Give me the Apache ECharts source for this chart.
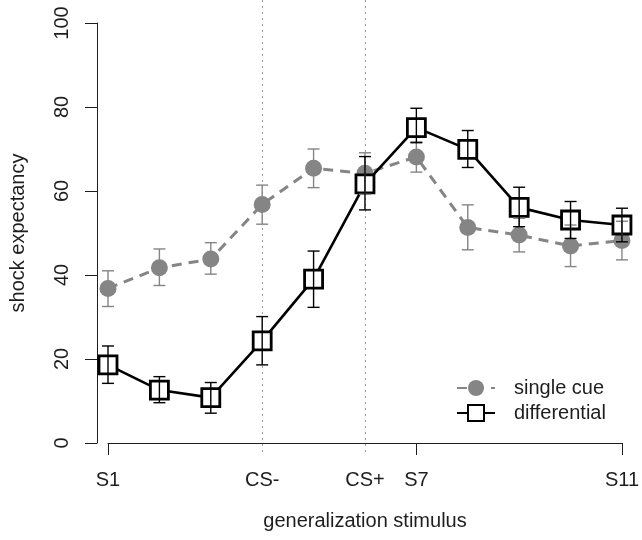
<!DOCTYPE html>
<html>
<head>
<meta charset="utf-8">
<script src="https://cdn.jsdelivr.net/npm/echarts@6/dist/echarts.min.js"></script>
<style>
  html, body { margin: 0; padding: 0; background: #fff; }
  #chart { width: 642px; height: 540px; }
</style>
</head>
<body>
<div id="chart"></div>
<script>
// generalization stimuli (S4 = CS-, S6 = CS+)
const stimuli = ['S1', 'S2', 'S3', 'CS-', 'S5', 'CS+', 'S7', 'S8', 'S9', 'S10', 'S11']
const labelledStimuli = ['S1', 'CS-', 'CS+', 'S7', 'S11']
const tickedStimuli = ['S1', 'S7', 'S11']
const conditionedStimuli = ['CS-', 'CS+']
const yTicks = [0, 20, 40, 60, 80, 100]

// single cue group
const singleMean = [36.8, 41.7, 43.8, 56.8, 65.4, 64.2, 68.1, 51.3, 49.5, 46.9, 48.2]
const singleLow = [32.5, 37.5, 40.2, 52.1, 60.8, 59.2, 64.5, 46.0, 45.5, 42.0, 43.6]
const singleHigh = [41.0, 46.2, 47.7, 61.4, 70.0, 69.1, 71.7, 56.7, 53.5, 51.9, 52.8]

// differential group
const diffMean = [18.6, 12.6, 10.8, 24.3, 39.0, 61.7, 75.1, 69.9, 56.1, 53.1, 51.9]
const diffLow = [14.2, 9.6, 7.1, 18.6, 32.3, 55.5, 71.5, 65.6, 51.5, 48.7, 47.9]
const diffHigh = [23.1, 15.8, 14.4, 30.1, 45.7, 68.2, 79.7, 74.4, 60.9, 57.5, 55.9]

const FONT = "'Liberation Sans', Arial, sans-serif"
const INK = '#1e1e1e'
const GREY = '#858585'

const chart = echarts.init(document.getElementById('chart'), null, { renderer: 'canvas' })

// vertical error bar with caps
function errorBar(color) {
  return function (params, api) {
    const x = api.value(0)
    const lo = api.coord([x, api.value(1)])
    const hi = api.coord([x, api.value(2)])
    const w = 6
    const style = { stroke: color, lineWidth: 1.4 }
    return {
      type: 'group',
      children: [
        { type: 'line', shape: { x1: lo[0], y1: lo[1], x2: hi[0], y2: hi[1] }, style },
        { type: 'line', shape: { x1: hi[0] - w, y1: hi[1], x2: hi[0] + w, y2: hi[1] }, style },
        { type: 'line', shape: { x1: lo[0] - w, y1: lo[1], x2: lo[0] + w, y2: lo[1] }, style }
      ]
    }
  }
}

const option = {
  animation: false,
  backgroundColor: '#fff',
  textStyle: { fontFamily: FONT },
  legend: {
    orient: 'vertical',
    left: 451,
    top: 373,
    itemWidth: 38,
    itemHeight: 20,
    itemGap: 5,
    textStyle: { fontSize: 20, color: INK, fontFamily: FONT, padding: [0, 0, 0, 14] },
    data: ['single cue', 'differential']
  },
  grid: [
    { left: 108, right: 19, top: 23, bottom: 97 },
    // full height grid only used for the dotted CS lines
    { left: 108, right: 19, top: 0, bottom: 84 }
  ],
  xAxis: [
    {
      type: 'category',
      gridIndex: 0,
      data: stimuli,
      boundaryGap: false,
      name: 'generalization stimulus',
      nameLocation: 'middle',
      nameGap: 68,
      nameTextStyle: { fontSize: 20, color: INK, fontFamily: FONT },
      axisLine: { lineStyle: { color: INK, width: 1 } },
      axisTick: {
        length: 12,
        interval: (i, v) => tickedStimuli.includes(v),
        lineStyle: { color: INK, width: 1 }
      },
      axisLabel: {
        interval: (i, v) => labelledStimuli.includes(v),
        margin: 27,
        fontSize: 20,
        color: INK,
        fontFamily: FONT
      },
      splitLine: { show: false }
    },
    {
      type: 'category',
      gridIndex: 1,
      data: stimuli,
      boundaryGap: false,
      axisLine: { show: false },
      axisTick: { show: false },
      axisLabel: { show: false },
      splitLine: {
        show: true,
        interval: (i, v) => conditionedStimuli.includes(v),
        lineStyle: { color: '#9a9a9a', width: 1, type: [2, 4] }
      }
    }
  ],
  yAxis: [
    {
      type: 'value',
      gridIndex: 0,
      min: yTicks[0],
      max: yTicks[yTicks.length - 1],
      interval: yTicks[1] - yTicks[0],
      offset: 11,
      name: 'shock expectancy',
      nameLocation: 'middle',
      nameGap: 69,
      nameTextStyle: { fontSize: 20, color: INK, fontFamily: FONT },
      axisLine: { show: true, lineStyle: { color: INK, width: 1 } },
      axisTick: { show: true, length: 12, lineStyle: { color: INK, width: 1 } },
      axisLabel: { rotate: 90, margin: 25, fontSize: 20, color: INK, fontFamily: FONT },
      splitLine: { show: false }
    },
    { type: 'value', gridIndex: 1, show: false, min: 0, max: 1 }
  ],
  series: [
    {
      name: 'single cue',
      type: 'line',
      z: 2,
      data: singleMean,
      symbol: 'circle',
      symbolSize: 17,
      color: GREY,
      itemStyle: { color: GREY },
      lineStyle: { color: GREY, width: 3, type: [10, 7] }
    },
    {
      name: 'differential',
      type: 'line',
      z: 3,
      data: diffMean,
      symbol: 'rect',
      symbolSize: 18,
      color: '#000',
      itemStyle: { color: '#fff', borderColor: '#000', borderWidth: 2.8 },
      lineStyle: { color: '#000', width: 2.6 }
    },
    {
      type: 'custom',
      z: 4,
      renderItem: errorBar(GREY),
      encode: { x: 0, y: [1, 2] },
      data: stimuli.map((s, i) => [i, singleLow[i], singleHigh[i]])
    },
    {
      type: 'custom',
      z: 4,
      renderItem: errorBar('#000'),
      encode: { x: 0, y: [1, 2] },
      data: stimuli.map((s, i) => [i, diffLow[i], diffHigh[i]])
    }
  ]
}

chart.setOption(option)
</script>
</body>
</html>
